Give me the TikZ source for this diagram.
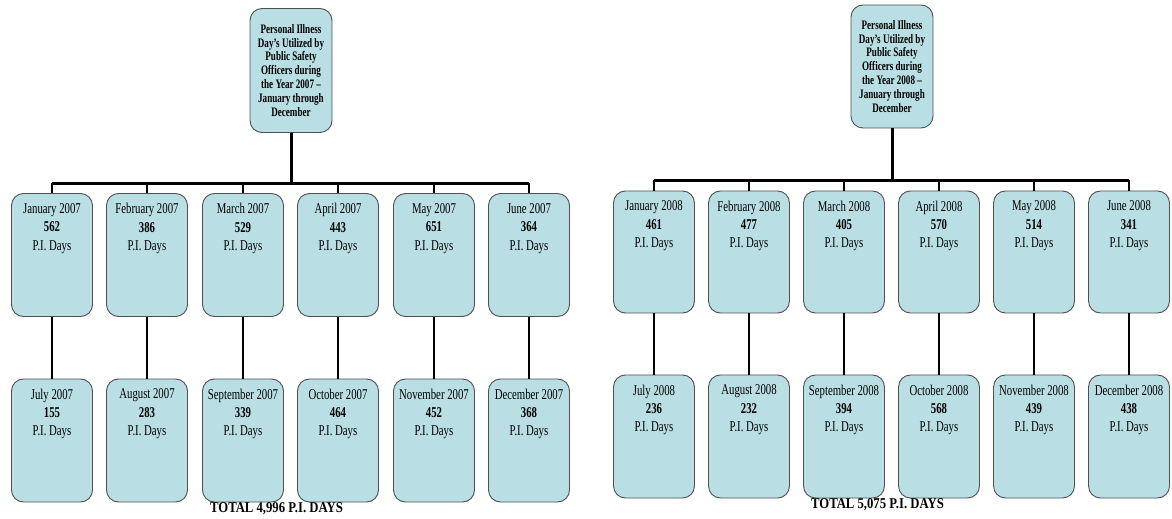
\documentclass[tikz,border=0pt]{standalone}
\usepackage{fontspec}
\setmainfont[FakeStretch=0.72]{Liberation Serif}
\newfontfamily\headfont[FakeStretch=0.70,Ligatures=TeX]{Liberation Serif}
\newfontfamily\totfont[FakeStretch=0.85,Ligatures=TeX]{Liberation Serif}
\definecolor{boxfill}{RGB}{185,223,228}
\definecolor{boxline}{RGB}{80,80,80}
\tikzset{
  box/.style={draw=boxline, line width=0.9bp, fill=boxfill, rounded corners=12bp, inner sep=0pt},
  headbox/.style={box, minimum width=82bp, minimum height=124bp, align=center,
     font=\fontsize{13}{14}\selectfont\headfont\bfseries},
  monthbox/.style={box, minimum width=81bp, minimum height=123bp},
  monthtext/.style={inner sep=0pt, anchor=north, align=center, font=\fontsize{15}{18.5}\selectfont},
  busline/.style={line width=3bp, black},
  drop/.style={line width=2bp, black},
  totaltext/.style={inner sep=0pt, font=\fontsize{15}{17}\selectfont\totfont\bfseries}
}
\begin{document}
\begin{tikzpicture}[x=1bp,y=-1bp]
\useasboundingbox (0,0) rectangle (1172,519);
\fill[white] (0,0) rectangle (1172,519);

% ---------- 2007 ----------
\node[headbox] (h07) at (291,70.5) {Personal Illness\\Day's Utilized by\\Public Safety\\Officers during\\the Year 2007 –\\January through\\December};
\coordinate (b07) at (291,183.5);

\foreach \n/\x/\ma/\va/\mb/\vb in {
  1/52/January 2007/562/July 2007/155,
  2/147/February 2007/386/August 2007/283,
  3/243/March 2007/529/September 2007/339,
  4/338/April 2007/443/October 2007/464,
  5/434/May 2007/651/November 2007/452,
  6/529/June 2007/364/December 2007/368}{
  \node[monthbox] (a07\n) at (\x,255) {};
  \node[monthbox] (c07\n) at (\x,440.5) {};
  \draw[drop] (a07\n.south) -- (c07\n.north);
  \draw[drop] (a07\n.north) -- (a07\n.north |- b07);
  \node[monthtext] (ta07\n) at ([yshift=-10bp]a07\n.north) {\ma\\\textbf{\va}\\P.I. Days};
  \node[monthtext] (tc07\n) at ([yshift=-10bp]c07\n.north) {\mb\\\textbf{\vb}\\P.I. Days};
}
\draw[busline] (a071.north |- b07) -- (a076.north |- b07);
\draw[busline] (h07.south) -- (b07);
\node[totaltext] (t07) at (276.5,509) {TOTAL 4,996 P.I. DAYS};

% ---------- 2008 ----------
\node[headbox, minimum height=123bp] (h08) at (892,66.5) {Personal Illness\\Day's Utilized by\\Public Safety\\Officers during\\the Year 2008 –\\January through\\December};
\coordinate (b08) at (892,180.5);

\foreach \n/\x/\ma/\va/\mb/\vb in {
  1/654/January 2008/461/July 2008/236,
  2/749/February 2008/477/August 2008/232,
  3/844/March 2008/405/September 2008/394,
  4/939/April 2008/570/October 2008/568,
  5/1034/May 2008/514/November 2008/439,
  6/1129/June 2008/341/December 2008/438}{
  \node[monthbox, minimum height=122bp] (a08\n) at (\x,252) {};
  \node[monthbox] (c08\n) at (\x,436.5) {};
  \draw[drop] (a08\n.south) -- (c08\n.north);
  \draw[drop] (a08\n.north) -- (a08\n.north |- b08);
  \node[monthtext] (ta08\n) at ([yshift=-10bp]a08\n.north) {\ma\\\textbf{\va}\\P.I. Days};
  \node[monthtext] (tc08\n) at ([yshift=-10bp]c08\n.north) {\mb\\\textbf{\vb}\\P.I. Days};
}
\draw[busline] (a081.north |- b08) -- (a086.north |- b08);
\draw[busline] (h08.south) -- (b08);
\node[totaltext] (t08) at (877.5,505) {TOTAL 5,075 P.I. DAYS};
\end{tikzpicture}
\end{document}
